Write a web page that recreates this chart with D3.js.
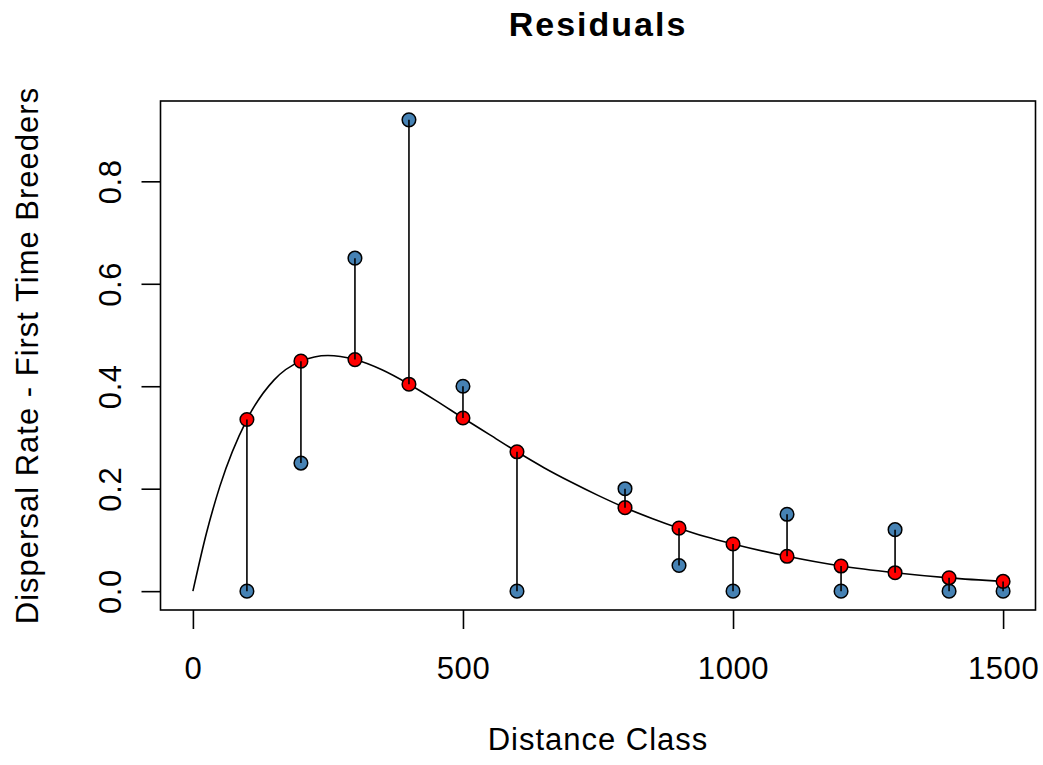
<!DOCTYPE html>
<html>
<head>
<meta charset="utf-8">
<script src="https://cdn.jsdelivr.net/npm/d3@7"></script>
<style>
  body { margin: 0; background: #fff; }
  text { font-family: "Liberation Sans", Arial, sans-serif; fill: #000; }
</style>
</head>
<body>
<div id="chart"></div>
<script>
// distance classes and observed dispersal rates (blue points)
const distClass = [100, 200, 300, 400, 500, 600, 800, 900, 1000, 1100, 1200, 1300, 1400, 1500];
const observed = [0, 0.25, 0.65, 0.92, 0.40, 0, 0.20, 0.05, 0, 0.15, 0, 0.12, 0, 0];
// fitted values at each class (red points)
const fitted = [0.335, 0.449, 0.452, 0.404, 0.338, 0.272, 0.163, 0.123, 0.092, 0.068, 0.049, 0.036, 0.026, 0.019];

// fitted curve
const curveX = [0, 25, 50, 100, 150, 200, 250, 300, 350, 400, 450, 500, 550, 600, 650, 700, 750, 800, 850, 900, 950, 1000, 1100, 1200, 1300, 1400, 1500];
const curveY = [0, 0.113, 0.205, 0.335, 0.412, 0.449, 0.460, 0.452, 0.432, 0.404, 0.372, 0.338, 0.305, 0.272, 0.241, 0.213, 0.187, 0.163, 0.142, 0.123, 0.106, 0.092, 0.068, 0.049, 0.036, 0.026, 0.019];

const xTicks = [0, 500, 1000, 1500];
const yTicks = [0, 0.2, 0.4, 0.6, 0.8];

const W = 1043, H = 765;
const plot = {left: 160.5, right: 1035.5, top: 101, bottom: 610};

const svg = d3.select('#chart').append('svg')
    .attr('width', W)
    .attr('height', H);

// R style 4% padding on both axes
const xScale = d3.scaleLinear()
    .domain([-60, 1560])
    .range([plot.left, plot.right]);
const yScale = d3.scaleLinear()
    .domain([-0.0368, 0.9568])
    .range([plot.bottom, plot.top]);

// curve
const line = d3.line()
    .x((d, i) => xScale(curveX[i]))
    .y(d => yScale(d))
    .curve(d3.curveMonotoneX);
svg.append('path')
    .attr('d', line(curveY))
    .attr('fill', 'none')
    .attr('stroke', '#000')
    .attr('stroke-width', 1.6);

// observed points
svg.append('g').selectAll('circle')
    .data(distClass)
    .join('circle')
    .attr('cx', d => xScale(d))
    .attr('cy', (d, i) => yScale(observed[i]))
    .attr('r', 6.8)
    .attr('fill', 'steelblue')
    .attr('stroke', '#000')
    .attr('stroke-width', 1.5);

// fitted points
svg.append('g').selectAll('circle')
    .data(distClass)
    .join('circle')
    .attr('cx', d => xScale(d))
    .attr('cy', (d, i) => yScale(fitted[i]))
    .attr('r', 6.8)
    .attr('fill', '#ff0000')
    .attr('stroke', '#000')
    .attr('stroke-width', 1.5);

// residual segments
svg.append('g').selectAll('line')
    .data(distClass)
    .join('line')
    .attr('x1', d => xScale(d))
    .attr('x2', d => xScale(d))
    .attr('y1', (d, i) => yScale(observed[i]))
    .attr('y2', (d, i) => yScale(fitted[i]))
    .attr('stroke', '#000')
    .attr('stroke-width', 1.6);

// box
svg.append('rect')
    .attr('x', plot.left)
    .attr('y', plot.top)
    .attr('width', plot.right - plot.left)
    .attr('height', plot.bottom - plot.top)
    .attr('fill', 'none')
    .attr('stroke', '#000')
    .attr('stroke-width', 1.6);

// axes
const xAxis = svg.append('g')
    .attr('transform', `translate(0, ${plot.bottom})`)
    .call(d3.axisBottom(xScale).tickValues(xTicks).tickSize(19).tickSizeOuter(0).tickFormat(d3.format('d')));
xAxis.select('.domain').remove();
xAxis.selectAll('.tick line').attr('stroke-width', 1.6);
xAxis.selectAll('.tick text')
    .attr('dy', 0)
    .attr('y', 69)
    .style('font-size', '31px')
    .style('letter-spacing', '0.6px');

const yAxis = svg.append('g')
    .attr('transform', `translate(${plot.left}, 0)`)
    .call(d3.axisLeft(yScale).tickValues(yTicks).tickSize(19).tickSizeOuter(0).tickFormat(d3.format('.1f')));
yAxis.select('.domain').remove();
yAxis.selectAll('.tick line').attr('stroke-width', 1.6);
yAxis.selectAll('.tick text')
    .attr('x', 0)
    .attr('dy', 0)
    .attr('text-anchor', 'middle')
    .attr('transform', 'translate(-40, 0) rotate(-90)')
    .style('font-size', '31px')
    .style('letter-spacing', '0.6px');

// titles
svg.append('text')
    .attr('x', (plot.left + plot.right) / 2)
    .attr('y', 36)
    .attr('text-anchor', 'middle')
    .style('font-size', '34px')
    .style('font-weight', 'bold')
    .style('letter-spacing', '2px')
    .text('Residuals');

svg.append('text')
    .attr('x', (plot.left + plot.right) / 2)
    .attr('y', 750)
    .attr('text-anchor', 'middle')
    .style('font-size', '31px')
    .style('letter-spacing', '1px')
    .text('Distance Class');

svg.append('text')
    .attr('transform', `translate(38, ${(plot.top + plot.bottom) / 2}) rotate(-90)`)
    .attr('text-anchor', 'middle')
    .style('font-size', '31px')
    .style('letter-spacing', '1px')
    .text('Dispersal Rate - First Time Breeders');
</script>
</body>
</html>
